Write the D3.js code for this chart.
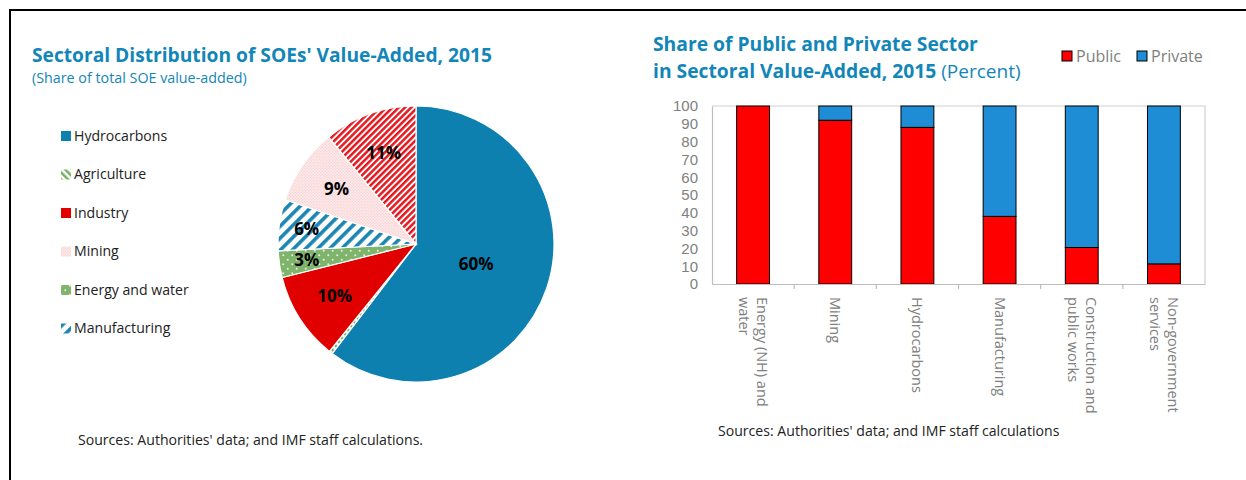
<!DOCTYPE html>
<html>
<head>
<meta charset="utf-8">
<script src="https://cdn.jsdelivr.net/npm/d3@7"></script>
<style>
  html, body { margin: 0; padding: 0; background: #fff; }
  svg { display: block; font-family: "Open Sans", "Noto Sans", sans-serif; }
</style>
</head>
<body>
<svg id="chart" width="1246" height="480"></svg>
<script>
// ---------- DATA ----------
// Left: pie (share of total SOE value-added), in drawing order clockwise from 12 o'clock
const pieSectors = ["Hydrocarbons", "Agriculture", "Industry", "Energy and water", "Manufacturing", "Mining", "Other"];
const pieShares  = [60.4, 0.4, 10.3, 3.1, 6.0, 8.9, 10.9];
const legendSectors = ["Hydrocarbons", "Agriculture", "Industry", "Mining", "Energy and water", "Manufacturing"];

// Right: stacked bars (percent)
const barCategories = ["Energy (NH) and water", "Mining", "Hydrocarbons", "Manufacturing", "Construction and public works", "Non-government services"];
const barLabelLines = [["Energy (NH) and", "water"], ["Mining"], ["Hydrocarbons"], ["Manufacturing"], ["Construction and", "public works"], ["Non-government", "services"]];
const publicShare  = [100, 92, 88, 38, 20.5, 11.3];
const privateShare = publicShare.map(v => 100 - v);
const seriesNames = ["Public", "Private"];
const yTicks = [0, 10, 20, 30, 40, 50, 60, 70, 80, 90, 100];

// ---------- SETUP ----------
const svg = d3.select("#chart");
const titleBlue = "#1286b8";
const defs = svg.append("defs");

function stripePattern(id, bg, fg, period, width, angle) {
  const p = defs.append("pattern").attr("id", id).attr("patternUnits", "userSpaceOnUse")
    .attr("width", period).attr("height", period).attr("patternTransform", `rotate(${angle})`);
  p.append("rect").attr("width", period).attr("height", period).attr("fill", bg);
  p.append("rect").attr("x", 0).attr("y", 0).attr("width", width).attr("height", period).attr("fill", fg);
}
function dotPattern(id, bg, fg, period, r) {
  const p = defs.append("pattern").attr("id", id).attr("patternUnits", "userSpaceOnUse")
    .attr("width", period).attr("height", period);
  p.append("rect").attr("width", period).attr("height", period).attr("fill", bg);
  p.append("circle").attr("cx", period / 4).attr("cy", period / 4).attr("r", r).attr("fill", fg);
  p.append("circle").attr("cx", period * 3 / 4).attr("cy", period * 3 / 4).attr("r", r).attr("fill", fg);
}
stripePattern("pAgri", "#ffffff", "#74b060", 5, 2.5, -45);
stripePattern("pManu", "#ffffff", "#1a86b6", 8.5, 3.6, 45);
stripePattern("pOther", "#ffffff", "#e5191f", 4.4, 2.5, 45);
dotPattern("pMining", "#fde9e9", "#f5c6c6", 3, 0.6);
dotPattern("pEnergy", "#7fb46c", "#e8f2e2", 9, 1);

const fills = {
  "Hydrocarbons": "#0d80b0",
  "Agriculture": "url(#pAgri)",
  "Industry": "#e00000",
  "Mining": "url(#pMining)",
  "Energy and water": "url(#pEnergy)",
  "Manufacturing": "url(#pManu)",
  "Other": "url(#pOther)"
};

// ---------- FRAME ----------
svg.append("line").attr("x1", 9).attr("x2", 1246).attr("y1", 10).attr("y2", 10).attr("stroke", "#000").attr("stroke-width", 2);
svg.append("line").attr("x1", 10).attr("x2", 10).attr("y1", 9).attr("y2", 480).attr("stroke", "#000").attr("stroke-width", 2);

// ---------- LEFT: PIE ----------
svg.append("text").attr("x", 32).attr("y", 62).attr("fill", titleBlue)
  .attr("font-weight", "bold").attr("font-size", 19.2)
  .text("Sectoral Distribution of SOEs' Value-Added, 2015");
svg.append("text").attr("x", 32).attr("y", 83).attr("fill", titleBlue)
  .attr("font-size", 14.3).text("(Share of total SOE value-added)");

const pieData = pieSectors.map((s, i) => ({ sector: s, value: pieShares[i] }));
const pie = d3.pie().value(d => d.value).sort(null);
const R = 138;
const arc = d3.arc().innerRadius(0).outerRadius(R);
const gPie = svg.append("g").attr("transform", "translate(416,244)");
const arcs = pie(pieData);
gPie.selectAll("path.slice").data(arcs).join("path").attr("class", "slice")
  .attr("d", arc).attr("fill", d => fills[d.data.sector])
  .attr("stroke", "#fff").attr("stroke-width", 1.2);

function labelFrac(d) {
  const share = d.data.value;
  if (share > 50) return 0.46;
  if (share < 8) return 0.8;
  return 0.7;
}
gPie.selectAll("text.lbl").data(arcs.filter(d => d.data.value >= 1)).join("text").attr("class", "lbl")
  .attr("transform", d => {
    const a = (d.startAngle + d.endAngle) / 2;
    const rr = R * labelFrac(d);
    return `translate(${Math.sin(a) * rr},${-Math.cos(a) * rr})`;
  })
  .attr("text-anchor", "middle").attr("dy", "0.36em")
  .attr("font-weight", "bold").attr("font-size", 17).attr("fill", "#000")
  .text(d => Math.round(d.data.value) + "%");

const gLeg = svg.append("g");
legendSectors.forEach((s, i) => {
  const y = 136 + i * 38.5;
  gLeg.append("rect").attr("x", 61).attr("y", y - 5).attr("width", 10).attr("height", 10).attr("fill", fills[s]);
  gLeg.append("text").attr("x", 74).attr("y", y).attr("dy", "0.35em").attr("font-size", 14.1).attr("fill", "#222").text(s);
});

svg.append("text").attr("x", 78).attr("y", 445).attr("font-size", 14.1).attr("fill", "#222")
  .text("Sources: Authorities' data; and IMF staff calculations.");

// ---------- RIGHT: STACKED BARS ----------
svg.append("text").attr("x", 653).attr("y", 51).attr("fill", titleBlue)
  .attr("font-weight", "bold").attr("font-size", 19.3).text("Share of Public and Private Sector");
const t2 = svg.append("text").attr("x", 653).attr("y", 78).attr("fill", titleBlue).attr("font-size", 19.3);
t2.append("tspan").attr("font-weight", "bold").text("in Sectoral Value-Added, 2015");
t2.append("tspan").attr("font-size", 19).text(" (Percent)");

const x = d3.scaleBand().domain(barCategories).range([712, 1205]).paddingInner(0.6).paddingOuter(0.3);
const y = d3.scaleLinear().domain([0, 100]).range([284, 106]);
const barColors = { "Public": "#ff0000", "Private": "#1f8dd6" };

// plot border (top & right)
svg.append("path").attr("d", `M712,${y(100)}H1205V${y(0)}`).attr("fill", "none").attr("stroke", "#d0d0d0").attr("stroke-width", 1.2);

const stackData = barCategories.map((c, i) => ({ cat: c, Public: publicShare[i], Private: privateShare[i] }));
const stack = d3.stack().keys(seriesNames)(stackData);
svg.append("g").selectAll("g").data(stack).join("g")
  .attr("fill", d => barColors[d.key])
  .selectAll("rect").data(d => d).join("rect")
  .attr("x", d => x(d.data.cat)).attr("width", x.bandwidth())
  .attr("y", d => y(d[1])).attr("height", d => y(d[0]) - y(d[1]))
  .attr("stroke", "#000").attr("stroke-width", 1);

// y axis
const yAxis = d3.axisLeft(y).tickValues(yTicks).tickSize(0).tickPadding(14);
const gy = svg.append("g").attr("transform", "translate(712,0)").call(yAxis);
gy.select(".domain").attr("stroke", "#bdbdbd").attr("stroke-width", 1.2);
gy.selectAll("text").attr("font-family", "'Liberation Sans', Arial, sans-serif").attr("font-size", 15).attr("fill", "#808080");

// x axis baseline & ticks between categories
const xAxis = d3.axisBottom(x).tickSize(0).tickFormat("");
const gx = svg.append("g").attr("transform", `translate(0,${y(0)})`).call(xAxis);
gx.select(".domain").attr("stroke", "#bdbdbd").attr("stroke-width", 1.2);
const step = x.step();
const boundaries = barCategories.slice(1).map(c => x(c) - (step - x.bandwidth()) / 2);
gx.selectAll("line.sep").data(boundaries).join("line").attr("class", "sep")
  .attr("x1", d => d).attr("x2", d => d).attr("y1", 0).attr("y2", 5)
  .attr("stroke", "#bdbdbd").attr("stroke-width", 1.2);

// rotated category labels
const lblG = svg.append("g");
barCategories.forEach((c, i) => {
  const lines = barLabelLines[i];
  const cx = x(c) + x.bandwidth() / 2;
  const lh = 18;
  const offset = (lines.length - 1) * lh / 2;
  const t = lblG.append("text")
    .attr("transform", `translate(${cx + offset},297) rotate(90)`)
    .attr("font-size", 14.5).attr("fill", "#808080");
  lines.forEach((ln, j) => {
    t.append("tspan").attr("x", 0).attr("y", j * lh).attr("dy", "0.35em").text(ln);
  });
});

// legend
seriesNames.forEach((s, i) => {
  const lx = [1062, 1137][i];
  svg.append("rect").attr("x", lx).attr("y", 51).attr("width", 10).attr("height", 10)
    .attr("fill", barColors[s]).attr("stroke", "#000").attr("stroke-width", 1);
  svg.append("text").attr("x", lx + 14).attr("y", 56).attr("dy", "0.35em")
    .attr("font-size", 16).attr("fill", "#808080").text(s);
});

svg.append("text").attr("x", 718).attr("y", 436).attr("font-size", 14.1).attr("fill", "#222")
  .text("Sources: Authorities' data; and IMF staff calculations");
</script>
</body>
</html>
